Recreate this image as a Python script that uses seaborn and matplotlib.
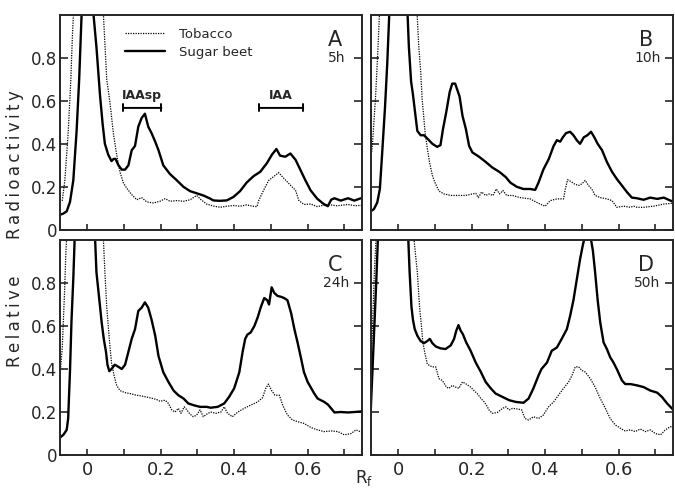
import numpy as np
import pandas as pd
import seaborn as sns
import matplotlib.pyplot as plt

# Rf / relative radioactivity
# values above 1 are the clipped origin peak
a_beet_rf = [-0.075, -0.066, -0.056, -0.047, -0.038, -0.029, -0.022, -0.015, 0.0, 0.016, 0.025, 0.035, 0.042,
             0.048, 0.057, 0.066, 0.072, 0.077, 0.085, 0.094, 0.103, 0.112, 0.121, 0.130, 0.139, 0.148, 0.157,
             0.166, 0.175, 0.185, 0.194, 0.207, 0.225, 0.244, 0.262, 0.280, 0.298, 0.316, 0.335, 0.343, 0.360,
             0.380, 0.398, 0.416, 0.434, 0.453, 0.471, 0.489, 0.503, 0.515, 0.525, 0.539, 0.553, 0.567, 0.580,
             0.594, 0.608, 0.626, 0.644, 0.655, 0.664, 0.673, 0.690, 0.710, 0.727, 0.745, 0.755]
a_beet_y = [0.07, 0.075, 0.086, 0.13, 0.23, 0.46, 0.70, 1.02, 1.3, 1.02, 0.85, 0.62, 0.49,
            0.40, 0.35, 0.32, 0.33, 0.33, 0.30, 0.28, 0.28, 0.30, 0.37, 0.39, 0.48, 0.52, 0.54,
            0.48, 0.45, 0.41, 0.37, 0.30, 0.26, 0.23, 0.20, 0.18, 0.17, 0.16, 0.145, 0.137, 0.135,
            0.137, 0.153, 0.18, 0.22, 0.25, 0.27, 0.31, 0.35, 0.376, 0.345, 0.34, 0.355, 0.326, 0.28,
            0.23, 0.184, 0.145, 0.12, 0.11, 0.14, 0.147, 0.136, 0.147, 0.136, 0.147, 0.14]

a_tob_rf = [-0.075, -0.068, -0.061, -0.052, -0.045, -0.040, -0.036, 0.0, 0.040, 0.044, 0.053, 0.062, 0.071,
            0.080, 0.089, 0.098, 0.107, 0.121, 0.135, 0.148, 0.162, 0.180, 0.198, 0.212, 0.225, 0.244, 0.262,
            0.280, 0.298, 0.310, 0.325, 0.345, 0.362, 0.380, 0.398, 0.416, 0.434, 0.450, 0.462, 0.467, 0.480,
            0.494, 0.507, 0.521, 0.535, 0.553, 0.567, 0.576, 0.590, 0.608, 0.626, 0.653, 0.680, 0.710, 0.730,
            0.755]
a_tob_y = [0.13, 0.137, 0.23, 0.45, 0.69, 0.92, 1.05, 1.3, 1.05, 1.0, 0.70, 0.59, 0.45,
           0.35, 0.27, 0.22, 0.195, 0.164, 0.14, 0.15, 0.13, 0.125, 0.133, 0.145, 0.133, 0.136, 0.133,
           0.14, 0.16, 0.14, 0.12, 0.11, 0.105, 0.11, 0.113, 0.11, 0.116, 0.11, 0.108, 0.137, 0.184,
           0.23, 0.247, 0.266, 0.24, 0.208, 0.184, 0.137, 0.118, 0.12, 0.108, 0.118, 0.112, 0.118, 0.112,
           0.115]

b_beet_rf = [-0.08, -0.066, -0.057, -0.050, -0.044, -0.036, -0.030, -0.024, 0.0, 0.025, 0.029, 0.035, 0.040,
             0.047, 0.052, 0.061, 0.070, 0.079, 0.093, 0.106, 0.115, 0.122, 0.131, 0.140, 0.147, 0.155, 0.161,
             0.167, 0.175, 0.184, 0.193, 0.202, 0.220, 0.238, 0.256, 0.275, 0.293, 0.305, 0.323, 0.341, 0.359,
             0.373, 0.382, 0.395, 0.410, 0.423, 0.432, 0.441, 0.448, 0.457, 0.468, 0.477, 0.486, 0.495, 0.505,
             0.515, 0.525, 0.534, 0.543, 0.555, 0.568, 0.582, 0.595, 0.609, 0.623, 0.636, 0.650, 0.668, 0.686,
             0.705, 0.723, 0.741, 0.755]
b_beet_y = [0.08, 0.097, 0.128, 0.19, 0.35, 0.57, 0.77, 1.02, 1.3, 1.02, 0.85, 0.69, 0.63,
            0.53, 0.46, 0.44, 0.44, 0.425, 0.40, 0.386, 0.394, 0.47, 0.55, 0.64, 0.68, 0.68, 0.65,
            0.62, 0.53, 0.47, 0.39, 0.36, 0.34, 0.316, 0.29, 0.27, 0.245, 0.22, 0.20, 0.19, 0.19,
            0.186, 0.22, 0.28, 0.33, 0.39, 0.417, 0.41, 0.43, 0.45, 0.456, 0.44, 0.417, 0.40, 0.43,
            0.44, 0.456, 0.43, 0.40, 0.37, 0.316, 0.27, 0.237, 0.206, 0.175, 0.15, 0.147, 0.14, 0.15,
            0.144, 0.15, 0.136, 0.128]

b_tob_rf = [-0.08, -0.071, -0.062, -0.055, -0.050, 0.0, 0.050, 0.056, 0.061, 0.065, 0.073, 0.079, 0.085,
            0.093, 0.100, 0.111, 0.125, 0.143, 0.165, 0.184, 0.202, 0.211, 0.218, 0.227, 0.238, 0.247, 0.258,
            0.267, 0.276, 0.285, 0.295, 0.311, 0.332, 0.359, 0.386, 0.400, 0.414, 0.432, 0.450, 0.455, 0.461,
            0.470, 0.479, 0.491, 0.500, 0.509, 0.518, 0.527, 0.536, 0.550, 0.568, 0.582, 0.595, 0.614, 0.632,
            0.641, 0.650, 0.668, 0.695, 0.723, 0.755]
b_tob_y = [0.27, 0.38, 0.61, 0.85, 1.05, 1.3, 1.05, 0.85, 0.74, 0.61, 0.456, 0.38, 0.316,
           0.253, 0.22, 0.18, 0.167, 0.16, 0.16, 0.16, 0.167, 0.17, 0.15, 0.176, 0.16, 0.167, 0.16,
           0.19, 0.167, 0.183, 0.16, 0.16, 0.15, 0.144, 0.12, 0.11, 0.136, 0.144, 0.144, 0.19, 0.233,
           0.225, 0.214, 0.206, 0.214, 0.23, 0.206, 0.19, 0.16, 0.15, 0.144, 0.136, 0.105, 0.11, 0.105,
           0.11, 0.105, 0.105, 0.11, 0.12, 0.125]

c_beet_rf = [-0.075, -0.065, -0.056, -0.052, -0.047, -0.043, -0.038, -0.034, 0.0, 0.021, 0.025, 0.033, 0.039,
             0.045, 0.051, 0.055, 0.060, 0.066, 0.075, 0.085, 0.094, 0.103, 0.112, 0.121, 0.130, 0.139, 0.148,
             0.157, 0.166, 0.175, 0.185, 0.194, 0.207, 0.221, 0.235, 0.248, 0.262, 0.275, 0.289, 0.307, 0.325,
             0.336, 0.355, 0.373, 0.386, 0.400, 0.414, 0.423, 0.430, 0.436, 0.445, 0.455, 0.464, 0.473, 0.482,
             0.490, 0.495, 0.502, 0.509, 0.518, 0.527, 0.536, 0.545, 0.555, 0.564, 0.573, 0.582, 0.590, 0.600,
             0.610, 0.618, 0.627, 0.636, 0.645, 0.655, 0.664, 0.673, 0.690, 0.710, 0.727, 0.755]
c_beet_y = [0.08, 0.094, 0.117, 0.17, 0.39, 0.62, 0.82, 1.02, 1.3, 1.02, 0.85, 0.72, 0.62,
            0.54, 0.48, 0.42, 0.39, 0.40, 0.42, 0.41, 0.40, 0.42, 0.48, 0.54, 0.585, 0.67, 0.685,
            0.71, 0.685, 0.63, 0.555, 0.46, 0.385, 0.34, 0.30, 0.278, 0.263, 0.24, 0.232, 0.224, 0.224,
            0.22, 0.224, 0.24, 0.27, 0.31, 0.385, 0.48, 0.54, 0.56, 0.57, 0.60, 0.64, 0.69, 0.73,
            0.72, 0.70, 0.78, 0.754, 0.74, 0.736, 0.73, 0.72, 0.66, 0.585, 0.52, 0.45, 0.385, 0.34,
            0.31, 0.286, 0.263, 0.255, 0.247, 0.235, 0.217, 0.198, 0.20, 0.198, 0.20, 0.204]

c_tob_rf = [-0.075, -0.068, -0.062, -0.058, -0.055, 0.0, 0.040, 0.044, 0.048, 0.053, 0.060, 0.066, 0.073,
            0.080, 0.089, 0.103, 0.116, 0.135, 0.153, 0.171, 0.189, 0.198, 0.212, 0.221, 0.230, 0.239, 0.248,
            0.255, 0.264, 0.271, 0.280, 0.289, 0.298, 0.307, 0.316, 0.325, 0.336, 0.350, 0.364, 0.373, 0.382,
            0.395, 0.410, 0.427, 0.445, 0.464, 0.477, 0.486, 0.493, 0.502, 0.511, 0.523, 0.532, 0.545, 0.559,
            0.573, 0.590, 0.610, 0.627, 0.645, 0.664, 0.682, 0.700, 0.718, 0.732, 0.755]
c_tob_y = [0.35, 0.50, 0.75, 0.95, 1.05, 1.3, 1.05, 1.0, 0.85, 0.69, 0.54, 0.43, 0.37,
           0.324, 0.30, 0.29, 0.286, 0.278, 0.273, 0.266, 0.258, 0.25, 0.255, 0.24, 0.21, 0.20, 0.217,
           0.194, 0.224, 0.21, 0.19, 0.178, 0.186, 0.21, 0.178, 0.19, 0.20, 0.194, 0.20, 0.224, 0.194,
           0.178, 0.20, 0.217, 0.232, 0.247, 0.266, 0.31, 0.33, 0.30, 0.278, 0.278, 0.232, 0.186, 0.163,
           0.155, 0.147, 0.127, 0.117, 0.109, 0.112, 0.109, 0.094, 0.10, 0.117, 0.10]

d_beet_rf = [-0.08, -0.075, -0.070, -0.065, -0.060, -0.055, 0.0, 0.027, 0.031, 0.036, 0.040, 0.045, 0.052,
             0.061, 0.070, 0.079, 0.086, 0.093, 0.102, 0.115, 0.129, 0.143, 0.152, 0.158, 0.164, 0.170, 0.176,
             0.185, 0.197, 0.211, 0.225, 0.238, 0.252, 0.265, 0.284, 0.302, 0.320, 0.341, 0.355, 0.368, 0.382,
             0.390, 0.405, 0.418, 0.432, 0.445, 0.459, 0.468, 0.477, 0.486, 0.495, 0.503, 0.509, 0.516, 0.523,
             0.530, 0.536, 0.543, 0.550, 0.559, 0.568, 0.577, 0.586, 0.595, 0.609, 0.618, 0.632, 0.650, 0.668,
             0.686, 0.705, 0.718, 0.732, 0.745, 0.755]
d_beet_y = [0.12, 0.20, 0.40, 0.60, 0.80, 1.02, 1.3, 1.02, 0.85, 0.69, 0.63, 0.585, 0.555,
            0.53, 0.52, 0.53, 0.54, 0.52, 0.505, 0.496, 0.493, 0.51, 0.54, 0.578, 0.604, 0.578, 0.562,
            0.524, 0.485, 0.43, 0.386, 0.34, 0.31, 0.286, 0.27, 0.255, 0.247, 0.243, 0.263, 0.31, 0.37,
            0.40, 0.43, 0.485, 0.50, 0.54, 0.585, 0.647, 0.72, 0.815, 0.91, 0.98, 1.02, 1.05, 1.02,
            0.95, 0.85, 0.72, 0.616, 0.524, 0.493, 0.455, 0.43, 0.40, 0.347, 0.33, 0.33, 0.324, 0.316,
            0.30, 0.29, 0.27, 0.24, 0.217, 0.20]

d_tob_rf = [-0.08, -0.075, -0.070, -0.065, -0.060, 0.0, 0.040, 0.043, 0.052, 0.058, 0.064, 0.067, 0.073,
            0.079, 0.085, 0.093, 0.102, 0.111, 0.120, 0.131, 0.138, 0.147, 0.156, 0.165, 0.175, 0.185, 0.197,
            0.206, 0.215, 0.225, 0.234, 0.240, 0.247, 0.256, 0.270, 0.284, 0.293, 0.302, 0.311, 0.325, 0.336,
            0.345, 0.355, 0.368, 0.382, 0.395, 0.409, 0.423, 0.436, 0.450, 0.464, 0.473, 0.482, 0.491, 0.500,
            0.509, 0.523, 0.536, 0.550, 0.564, 0.577, 0.591, 0.605, 0.618, 0.632, 0.645, 0.659, 0.673, 0.686,
            0.700, 0.714, 0.727, 0.741, 0.755]
d_tob_y = [0.25, 0.35, 0.60, 0.85, 1.02, 1.3, 1.05, 1.0, 0.85, 0.69, 0.585, 0.524, 0.47,
           0.424, 0.416, 0.41, 0.41, 0.355, 0.347, 0.316, 0.31, 0.324, 0.316, 0.31, 0.34, 0.33, 0.316,
           0.30, 0.286, 0.263, 0.247, 0.232, 0.21, 0.194, 0.198, 0.217, 0.224, 0.21, 0.217, 0.214, 0.21,
           0.17, 0.163, 0.178, 0.17, 0.186, 0.224, 0.247, 0.278, 0.31, 0.34, 0.37, 0.41, 0.41, 0.393,
           0.386, 0.355, 0.316, 0.263, 0.217, 0.17, 0.14, 0.124, 0.112, 0.117, 0.109, 0.121, 0.109, 0.117,
           0.10, 0.094, 0.117, 0.132, 0.124]

panel_letters = ['A', 'B', 'C', 'D']
panel_times = ['5h', '10h', '24h', '50h']

sns.set_style('ticks')
plt.rcParams['font.family'] = ['DejaVu Sans']

fig, axes = plt.subplots(2, 2, figsize=(6.75, 4.93), dpi=100, sharex=True, sharey=True)
fig.subplots_adjust(left=0.089, right=0.997, top=0.970, bottom=0.077, wspace=0.03, hspace=0.047)

series = [(a_tob_rf, a_tob_y, a_beet_rf, a_beet_y),
          (b_tob_rf, b_tob_y, b_beet_rf, b_beet_y),
          (c_tob_rf, c_tob_y, c_beet_rf, c_beet_y),
          (d_tob_rf, d_tob_y, d_beet_rf, d_beet_y)]

for i, ax in enumerate(axes.flat):
    tx, ty, bx, by = series[i]
    first = i == 0
    sns.lineplot(x=tx, y=ty, ax=ax, color='black', lw=0.9, linestyle=(0, (1, 1)),
                 label='Tobacco' if first else None, legend=first)
    sns.lineplot(x=bx, y=by, ax=ax, color='black', lw=1.7,
                 label='Sugar beet' if first else None, legend=first)

    ax.set_xlim(-0.074, 0.748)
    ax.set_ylim(0, 1.0)
    ax.set_xticks([0, 0.2, 0.4, 0.6], labels=['0', '0.2', '0.4', '0.6'])
    ax.set_xticks([0.1, 0.3, 0.5, 0.7], minor=True)
    ax.set_yticks([0, 0.2, 0.4, 0.6, 0.8], labels=['0', '0.2', '0.4', '0.6', '0.8'])
    ax.tick_params(axis='x', which='both', direction='in', length=4.5, width=1.2,
                   labelsize=13, pad=4, top=False)
    ax.tick_params(axis='y', direction='in', length=5.5, width=1.2, labelsize=12, pad=2,
                   left=True, right=True)
    for sp in ax.spines.values():
        sp.set_visible(True)
        sp.set_linewidth(1.4)
    ax.set_xlabel('')
    ax.set_ylabel('')

    ax.text(0.91, 0.885, panel_letters[i], transform=ax.transAxes, ha='center', va='center', fontsize=15)
    ax.text(0.915, 0.80, panel_times[i], transform=ax.transAxes, ha='center', va='center', fontsize=10)

ax = axes[0, 0]
ax.legend(loc='upper left', bbox_to_anchor=(0.215, 0.94), frameon=False, fontsize=9.5,
          handlelength=3.0, handletextpad=1.1, labelspacing=0.4, borderpad=0, borderaxespad=0)

# IAAsp / IAA zones
ax.annotate('', xy=(0.098, 0.567), xytext=(0.202, 0.567),
            arrowprops=dict(arrowstyle='|-|,widthA=0.25,widthB=0.25', lw=1.4, color='black',
                            shrinkA=0, shrinkB=0))
ax.text(0.15, 0.595, 'IAAsp', ha='center', va='bottom', fontsize=9, fontweight='bold')
ax.annotate('', xy=(0.468, 0.567), xytext=(0.588, 0.567),
            arrowprops=dict(arrowstyle='|-|,widthA=0.25,widthB=0.25', lw=1.4, color='black',
                            shrinkA=0, shrinkB=0))
ax.text(0.528, 0.595, 'IAA', ha='center', va='bottom', fontsize=9, fontweight='bold')

ts = '\u2009'
fig.text(0.022, 0.667, ts.join('Radioactivity'), rotation=90, ha='center', va='center', fontsize=12)
fig.text(0.022, 0.349, ts.join('Relative'), rotation=90, ha='center', va='center', fontsize=12)
fig.text(0.539, 0.03, 'R$_\\mathregular{f}$', ha='center', va='center', fontsize=12)

fig.savefig('out.png', dpi=100)
